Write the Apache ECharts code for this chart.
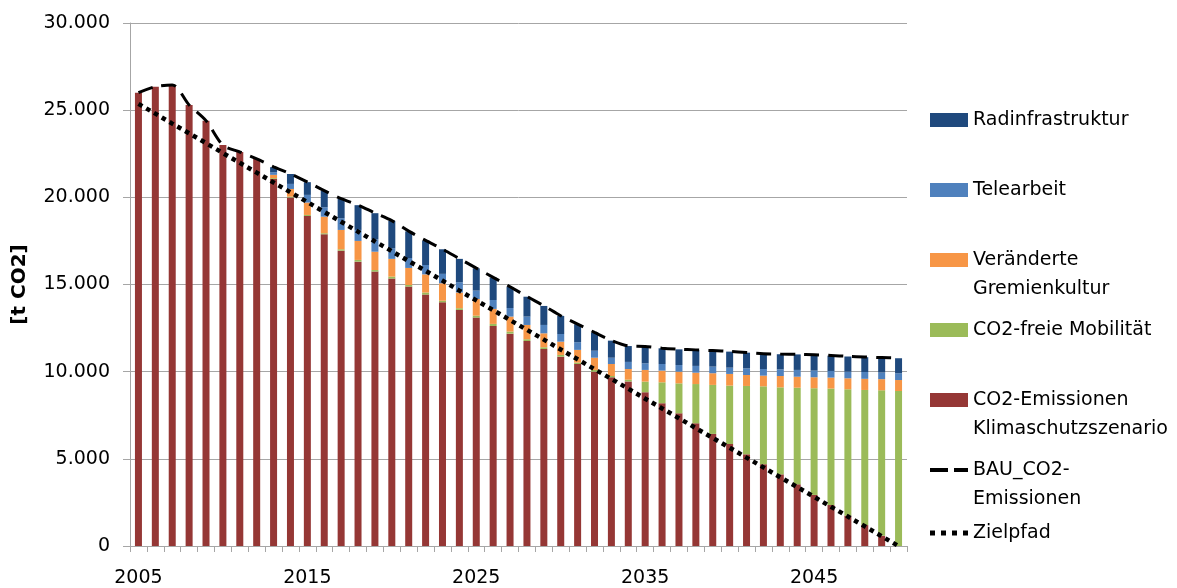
<!DOCTYPE html>
<html><head><meta charset="utf-8">
<script src="https://cdn.jsdelivr.net/npm/echarts@6/dist/echarts.min.js"></script>
<style>html,body{margin:0;padding:0;background:#fff}#c{width:1177px;height:588px}</style>
</head><body><div id="c"></div>
<script>
const years = ['2005','2006','2007','2008','2009','2010','2011','2012','2013','2014','2015','2016','2017','2018','2019','2020','2021','2022','2023','2024','2025','2026','2027','2028','2029','2030','2031','2032','2033','2034','2035','2036','2037','2038','2039','2040','2041','2042','2043','2044','2045','2046','2047','2048','2049','2050'];

const emissionen = [26000,26350,26450,25300,24400,23000,22600,22200,
  21050,19990,18930,17880,16940,16310,15740,15340,14880,14420,
  13980,13540,13100,12620,12180,11760,11300,10860,10440,10000,
  9680,9440,8820,8190,7610,7040,6430,5850,5260,4690,
  4110,3540,2930,2350,1740,1200,590,0];
const mobilitaet = [0,0,0,0,0,0,0,0,
  50,50,60,60,80,100,90,110,90,120,
  90,100,110,120,120,100,100,100,80,100,
  70,100,610,1200,1720,2250,2810,3350,3920,4470,
  4990,5540,6120,6680,7250,7750,8340,8890];
const gremien = [0,0,0,0,0,0,0,0,
  190,440,710,950,1110,1090,1050,1020,980,1040,
  1000,900,960,860,860,820,800,760,730,700,
  690,610,670,670,670,650,670,670,630,610,
  650,630,630,630,630,640,640,630];
const telearbeit = [0,0,0,0,0,0,0,0,
  150,290,440,540,670,630,720,610,570,540,
  540,590,480,510,490,480,480,440,440,400,
  360,410,380,380,380,390,380,360,380,380,
  380,390,380,380,380,390,380,390];
const radinfra = [0,0,0,0,0,0,0,0,
  290,570,730,940,1110,1420,1490,1570,1530,1400,
  1410,1340,1280,1290,1210,1140,1090,1040,1030,1040,
  980,910,960,900,900,910,910,920,900,870,
  870,890,900,880,870,850,850,860];
const bau = [26000,26350,26450,25300,24400,23000,22600,22200,
  21750,21350,20880,20380,19920,19560,19100,18660,18060,17530,
  17030,16480,15940,15410,14870,14310,13780,13210,12730,12250,
  11790,11480,11450,11350,11290,11250,11210,11160,11100,11030,
  11010,11000,10970,10930,10880,10840,10810,10780];
const zielpfad = [25360,24800,24230,23670,23110,22540,21980,21420,
  20850,20290,19730,19160,18600,18030,17470,16910,16340,15780,
  15220,14650,14090,13530,12960,12400,11840,11270,10710,10140,
  9580,9020,8450,7890,7330,6760,6200,5640,5070,4510,
  3940,3380,2820,2250,1690,1130,560,0];
const yTicks = {min: 0, max: 30000, interval: 5000};

const FONT = 'DejaVu Sans';
const GRAY = '#A6A6A6';
const names = {
  rad: 'Radinfrastruktur', tele: 'Telearbeit', grem: 'Veränderte Gremienkultur',
  mob: 'CO2-freie Mobilität', emi: 'CO2-Emissionen Klimaschutzszenario',
  bau: 'BAU_CO2-Emissionen', ziel: 'Zielpfad'
};
// two-line labels: a blank first line keeps the key next to the first text line
const legendText = {
  'Veränderte Gremienkultur': '\u00a0\nVeränderte\nGremienkultur',
  'CO2-Emissionen Klimaschutzszenario': '\u00a0\nCO2-Emissionen\nKlimaschutzszenario',
  'BAU_CO2-Emissionen': '\u00a0\nBAU_CO2-\nEmissionen'
};
const LH = 29;
function leg(name, centerY, twoLine, icon, ih) {
  return {
    data: [name], orient: 'vertical', left: 930,
    top: twoLine ? centerY - 1.5 * LH : centerY - LH / 2,
    padding: 0, itemGap: 0, itemWidth: 38, itemHeight: ih || 14,
    icon: icon,
    selectedMode: false,
    formatter: n => legendText[n] || n,
    textStyle: {fontFamily: FONT, fontSize: 19, color: '#000', lineHeight: LH}
  };
}
const dashIcon = 'path://M0,0h18v4h-18z M24,0h14v4h-14z';
const dotIcon = 'path://M0,0h5v5h-5z M11,0h5v5h-5z M22,0h5v5h-5z M33,0h5v5h-5z';

const chart = echarts.init(document.getElementById('c'), null, {renderer: 'canvas'});
function bar(name, data, color) {
  return {name, type: 'bar', stack: 'total', data, barWidth: 7,
    itemStyle: {color}, emphasis: {disabled: true}};
}
chart.setOption({
  animation: false,
  backgroundColor: '#fff',
  grid: {left: 130, right: 270, top: 23, bottom: 42, containLabel: false, outerBoundsMode: 'none'},
  legend: [
    leg(names.rad, 120, false, 'rect'),
    leg(names.tele, 190, false, 'rect'),
    leg(names.grem, 260, true, 'rect'),
    leg(names.mob, 330, false, 'rect'),
    leg(names.emi, 400, true, 'rect'),
    leg(names.bau, 470, true, dashIcon, 4),
    leg(names.ziel, 533, false, dotIcon, 5)
  ],
  xAxis: {
    type: 'category', data: years, boundaryGap: true,
    axisLine: {lineStyle: {color: GRAY, width: 1}},
    axisTick: {show: true, interval: 0, alignWithLabel: false, length: 6, lineStyle: {color: GRAY}},
    axisLabel: {interval: (i) => i % 10 === 0, margin: 23, fontFamily: FONT, fontSize: 19, color: '#000'}
  },
  yAxis: {
    type: 'value', min: yTicks.min, max: yTicks.max, interval: yTicks.interval,
    name: '[t CO2]', nameLocation: 'middle', nameRotate: 90, nameGap: 100,
    nameTextStyle: {fontFamily: FONT, fontSize: 20, fontWeight: 'bold', color: '#000'},
    axisLine: {show: true, lineStyle: {color: GRAY}},
    axisTick: {show: true, length: 7, lineStyle: {color: GRAY}},
    splitLine: {lineStyle: {color: GRAY, width: 1}},
    axisLabel: {margin: 20, fontFamily: FONT, fontSize: 19, color: '#000',
      formatter: v => String(v).replace(/\B(?=(\d{3})+(?!\d))/g, '.')}
  },
  series: [
    bar(names.emi, emissionen, '#953735'),
    bar(names.mob, mobilitaet, '#9BBB59'),
    bar(names.grem, gremien, '#F79646'),
    bar(names.tele, telearbeit, '#4F81BD'),
    bar(names.rad, radinfra, '#1F497D'),
    {name: names.bau, type: 'line', data: bau, smooth: 0.3, symbol: 'none', z: 5,
      lineStyle: {color: '#000', width: 3, type: [15, 9], cap: 'butt'}, itemStyle: {color: '#000'},
      emphasis: {disabled: true}},
    {name: names.ziel, type: 'line', data: zielpfad, symbol: 'none', z: 6,
      lineStyle: {color: '#000', width: 4.5, type: [4.5, 4.5], cap: 'butt'}, itemStyle: {color: '#000'},
      emphasis: {disabled: true}}
  ]
});
</script></body></html>
